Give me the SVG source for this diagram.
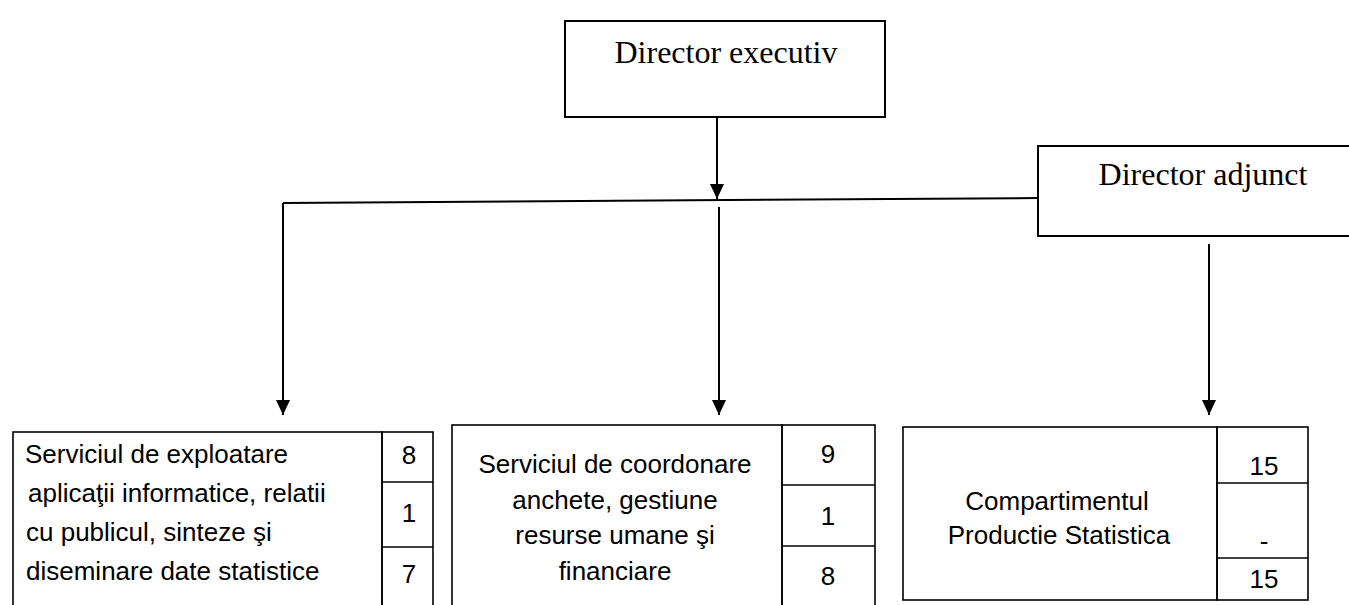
<svg xmlns="http://www.w3.org/2000/svg" width="1349" height="605" viewBox="0 0 1349 605">
<style>
.bg{fill:#fff}
.box{fill:#fff;stroke:#000;stroke-width:2}
.cell{fill:none;stroke:#000;stroke-width:1.6}
.conn{fill:none;stroke:#000;stroke-width:2}
.tt{font-family:"Liberation Serif","Times New Roman",serif;font-size:32px;fill:#000}
.st{font-family:"Liberation Sans",Arial,sans-serif;font-size:26px;fill:#000}
.mid{text-anchor:middle}
</style>
<defs>
<marker id="ah" viewBox="0 0 15 14" refX="15" refY="7" markerWidth="15" markerHeight="14" markerUnits="userSpaceOnUse" orient="auto">
<path d="M0,0 L15,7 L0,14 z" fill="#000"/>
</marker>
</defs>
<rect class="bg" x="0" y="0" width="1349" height="605"/>
<g id="connectors">
<line class="conn" x1="717" y1="117" x2="717" y2="199" marker-end="url(#ah)"/>
<line class="conn" x1="283" y1="203" x2="1038" y2="198"/>
<line class="conn" x1="283" y1="203" x2="283" y2="415" marker-end="url(#ah)"/>
<line class="conn" x1="719" y1="207" x2="719" y2="415" marker-end="url(#ah)"/>
<line class="conn" x1="1209" y1="244" x2="1209" y2="415" marker-end="url(#ah)"/>
</g>
<g id="director-executiv">
<rect class="box" x="565" y="21" width="320" height="96"/>
<text class="tt mid" x="726" y="63">Director executiv</text>
</g>
<g id="director-adjunct">
<rect class="box" x="1038" y="146" width="320" height="90"/>
<text class="tt mid" x="1203" y="185">Director adjunct</text>
</g>
<g id="serviciul-exploatare">
<rect class="cell" x="13" y="432" width="369" height="181"/>
<rect class="cell" x="382" y="432" width="51" height="181"/>
<line class="cell" x1="382" y1="482" x2="433" y2="482"/>
<line class="cell" x1="382" y1="547" x2="433" y2="547"/>
<text class="st" x="25" y="463">Serviciul de exploatare</text>
<text class="st" x="28" y="502">aplicaţii informatice, relatii</text>
<text class="st" x="26" y="541">cu publicul, sinteze şi</text>
<text class="st" x="26" y="580">diseminare date statistice</text>
<text class="st mid" x="409" y="464">8</text>
<text class="st mid" x="409" y="522">1</text>
<text class="st mid" x="409" y="583">7</text>
</g>
<g id="serviciul-coordonare">
<rect class="cell" x="452" y="425" width="330" height="190"/>
<rect class="cell" x="782" y="425" width="93" height="190"/>
<line class="cell" x1="782" y1="485" x2="875" y2="485"/>
<line class="cell" x1="782" y1="546" x2="875" y2="546"/>
<text class="st mid" x="615" y="473">Serviciul de coordonare</text>
<text class="st mid" x="615" y="509">anchete, gestiune</text>
<text class="st mid" x="615" y="544">resurse umane şi</text>
<text class="st mid" x="615" y="580">financiare</text>
<text class="st mid" x="828" y="463">9</text>
<text class="st mid" x="828" y="525">1</text>
<text class="st mid" x="828" y="585">8</text>
</g>
<g id="compartimentul-productie">
<rect class="cell" x="903" y="427" width="314" height="173"/>
<rect class="cell" x="1217" y="427" width="91" height="173"/>
<line class="cell" x1="1217" y1="483" x2="1308" y2="483"/>
<line class="cell" x1="1217" y1="558" x2="1308" y2="558"/>
<text class="st mid" x="1057" y="510">Compartimentul</text>
<text class="st mid" x="1059" y="544">Productie Statistica</text>
<text class="st mid" x="1264" y="475">15</text>
<text class="st mid" x="1264" y="550">-</text>
<text class="st mid" x="1264" y="588">15</text>
</g>
</svg>
